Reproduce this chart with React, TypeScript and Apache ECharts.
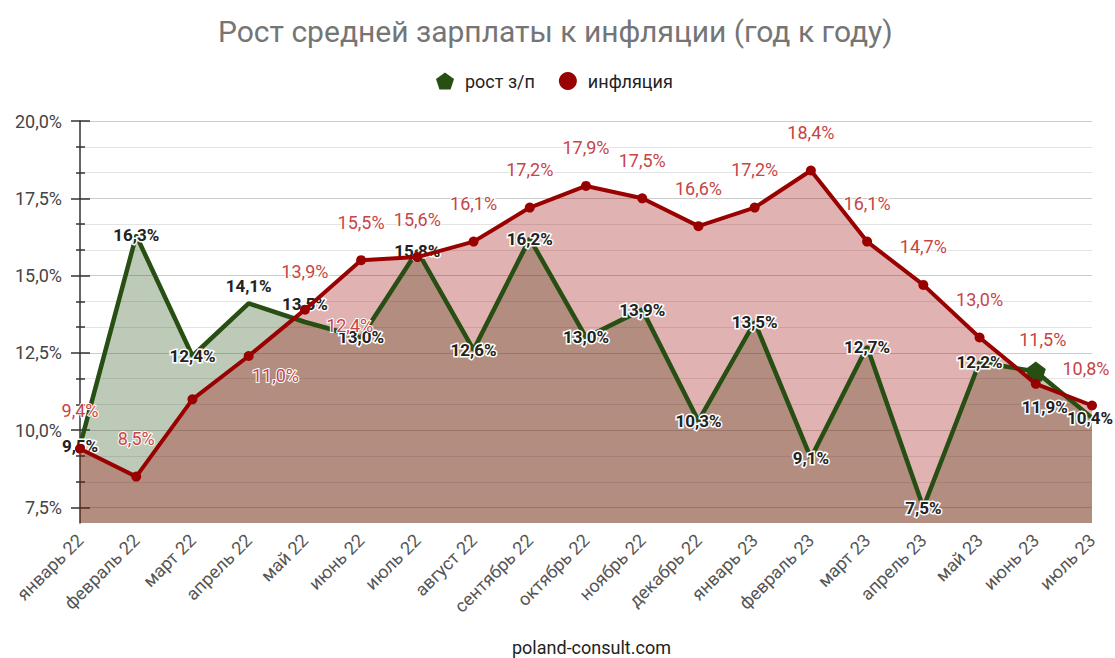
import { useEffect, useRef } from 'react';
import * as echarts from 'echarts';

const months = [
  'январь 22', 'февраль 22', 'март 22', 'апрель 22', 'май 22', 'июнь 22', 'июль 22',
  'август 22', 'сентябрь 22', 'октябрь 22', 'ноябрь 22', 'декабрь 22', 'январь 23',
  'февраль 23', 'март 23', 'апрель 23', 'май 23', 'июнь 23', 'июль 23',
];
const wageGrowth = [9.5, 16.3, 12.4, 14.1, 13.5, 13.0, 15.8, 12.6, 16.2, 13.0, 13.9, 10.3, 13.5, 9.1, 12.7, 7.5, 12.2, 11.9, 10.4];
const inflation = [9.4, 8.5, 11.0, 12.4, 13.9, 15.5, 15.6, 16.1, 17.2, 17.9, 17.5, 16.6, 17.2, 18.4, 16.1, 14.7, 13.0, 11.5, 10.8];
const majorTicks = [7.5, 10, 12.5, 15, 17.5, 20];
const minorTicks = [8.3333, 9.1667, 10.8333, 11.6667, 13.3333, 14.1667, 15.8333, 16.6667, 18.3333, 19.1667];

// label placement tweaks (index -> offset), styling only
const wageLabelOffsets: Record<number, number[]> = { 3: [0, -17], 4: [0, -18], 17: [9, 36], 18: [-2, 0] };
const inflLabelOffsets: Record<number, number[]> = { 2: [83, 14], 3: [101, 7], 17: [7, -6], 18: [-6, 1] };
const highlightedWageIndex = 17;

const GREEN = '#274e13';
const RED = '#990000';
const PENTAGON = 'path://M50,0 L97.6,34.5 L79.4,90.5 L20.6,90.5 L2.4,34.5 Z';
const FONT = 'Roboto, Arial, sans-serif';

const fmt = (v: number) => v.toFixed(1).replace('.', ',') + '%';

export default function App() {
  const ref = useRef<HTMLDivElement>(null);
  useEffect(() => {
    document.body.style.margin = '0';
    if (!ref.current) return;
    const chart = echarts.init(ref.current, null, { renderer: 'svg' });

    const baseY = {
      type: 'value',
      min: 7,
      max: 20,
      position: 'left',
      offset: 0,
      axisLine: { show: false },
      axisLabel: { show: false },
      splitLine: { show: false },
    };

    const wageData = wageGrowth.map((v, i) => {
      const item: any = { value: v };
      if (wageLabelOffsets[i]) item.label = { offset: wageLabelOffsets[i] };
      if (i === highlightedWageIndex) {
        item.symbol = PENTAGON;
        item.symbolSize = 20;
        item.itemStyle = { color: GREEN };
      }
      return item;
    });
    const inflData = inflation.map((v, i) => {
      const item: any = { value: v };
      if (inflLabelOffsets[i]) item.label = { offset: inflLabelOffsets[i] };
      return item;
    });

    chart.setOption({
      animation: false,
      backgroundColor: '#ffffff',
      title: [
        {
          text: 'Рост средней зарплаты к инфляции (год к году)',
          left: 213,
          top: 11,
          textStyle: { fontFamily: FONT, fontSize: 30, fontWeight: 'normal', color: '#757575' },
        },
        {
          text: 'poland-consult.com',
          left: 507,
          top: 633,
          textStyle: { fontFamily: FONT, fontSize: 18, fontWeight: 'normal', color: '#222222' },
        },
      ],
      legend: {
        top: 67,
        left: 431,
        itemGap: 24,
        itemWidth: 18,
        itemHeight: 18,
        textStyle: { fontFamily: FONT, fontSize: 18, color: '#222222', padding: [0, 0, 0, 6] },
        data: [
          { name: 'рост з/п', icon: PENTAGON },
          { name: 'инфляция', icon: 'circle' },
        ],
      },
      grid: { left: 80, right: 23, top: 121, bottom: 135, containLabel: false },
      xAxis: {
        type: 'category',
        data: months,
        boundaryGap: false,
        axisLine: { show: false },
        axisTick: { show: false },
        splitLine: { show: false },
        axisLabel: {
          rotate: 45,
          interval: 0,
          margin: 14,
          fontFamily: FONT,
          fontSize: 18,
          color: '#555555',
        },
      },
      yAxis: [
        {
          ...baseY,
          axisLine: { show: true, lineStyle: { color: '#333333', width: 1.5 } },
          axisLabel: {
            show: true,
            customValues: majorTicks,
            formatter: (v: number) => fmt(v),
            fontFamily: FONT,
            fontSize: 18,
            color: '#444444',
            margin: 18,
          },
          axisTick: { show: true, customValues: majorTicks, length: 9, lineStyle: { color: '#333333', width: 1.5 } },
          splitLine: { show: true, lineStyle: { color: '#cccccc', width: 1 } },
        },
        {
          ...baseY,
          axisTick: { show: true, customValues: minorTicks, length: 4, lineStyle: { color: '#333333', width: 1.5 } },
          splitLine: { show: true, lineStyle: { color: '#e4e4e4', width: 1 } },
        },
        {
          ...baseY,
          axisTick: { show: true, inside: true, customValues: majorTicks, length: 10, lineStyle: { color: '#333333', width: 1.5 } },
        },
        {
          ...baseY,
          axisTick: { show: true, inside: true, customValues: minorTicks, length: 5, lineStyle: { color: '#333333', width: 1.5 } },
        },
      ],
      series: [
        // areas first
        {
          name: 'рост з/п',
          type: 'line',
          data: wageGrowth,
          symbol: 'none',
          lineStyle: { width: 0 },
          itemStyle: { color: GREEN },
          areaStyle: { color: GREEN, opacity: 0.3, origin: 'start' },
          silent: true,
          z: 1,
        },
        {
          name: 'инфляция',
          type: 'line',
          data: inflation,
          symbol: 'none',
          lineStyle: { width: 0 },
          itemStyle: { color: RED },
          areaStyle: { color: RED, opacity: 0.3, origin: 'start' },
          silent: true,
          z: 1,
        },
        // lines and labels
        {
          name: 'рост з/п',
          type: 'line',
          data: wageData,
          symbol: 'circle',
          symbolSize: 3,
          showSymbol: true,
          itemStyle: { color: GREEN },
          lineStyle: { color: GREEN, width: 4.5 },
          label: {
            show: true,
            position: 'inside',
            formatter: (p: any) => fmt(p.value),
            fontFamily: FONT,
            fontSize: 17,
            fontWeight: 'bold',
            color: '#222222',
            textBorderColor: '#ffffff',
            textBorderWidth: 3,
          },
          z: 2,
        },
        {
          name: 'инфляция',
          type: 'line',
          data: inflData,
          symbol: 'circle',
          symbolSize: 10,
          itemStyle: { color: RED },
          lineStyle: { color: RED, width: 4 },
          label: {
            show: true,
            position: 'top',
            distance: 24,
            formatter: (p: any) => fmt(p.value),
            fontFamily: FONT,
            fontSize: 18,
            color: '#c64545',
            textBorderColor: '#ffffff',
            textBorderWidth: 2,
          },
          z: 3,
        },
      ],
    });
    return () => chart.dispose();
  }, []);
  return <div ref={ref} style={{ width: 1115, height: 658 }} />;
}
